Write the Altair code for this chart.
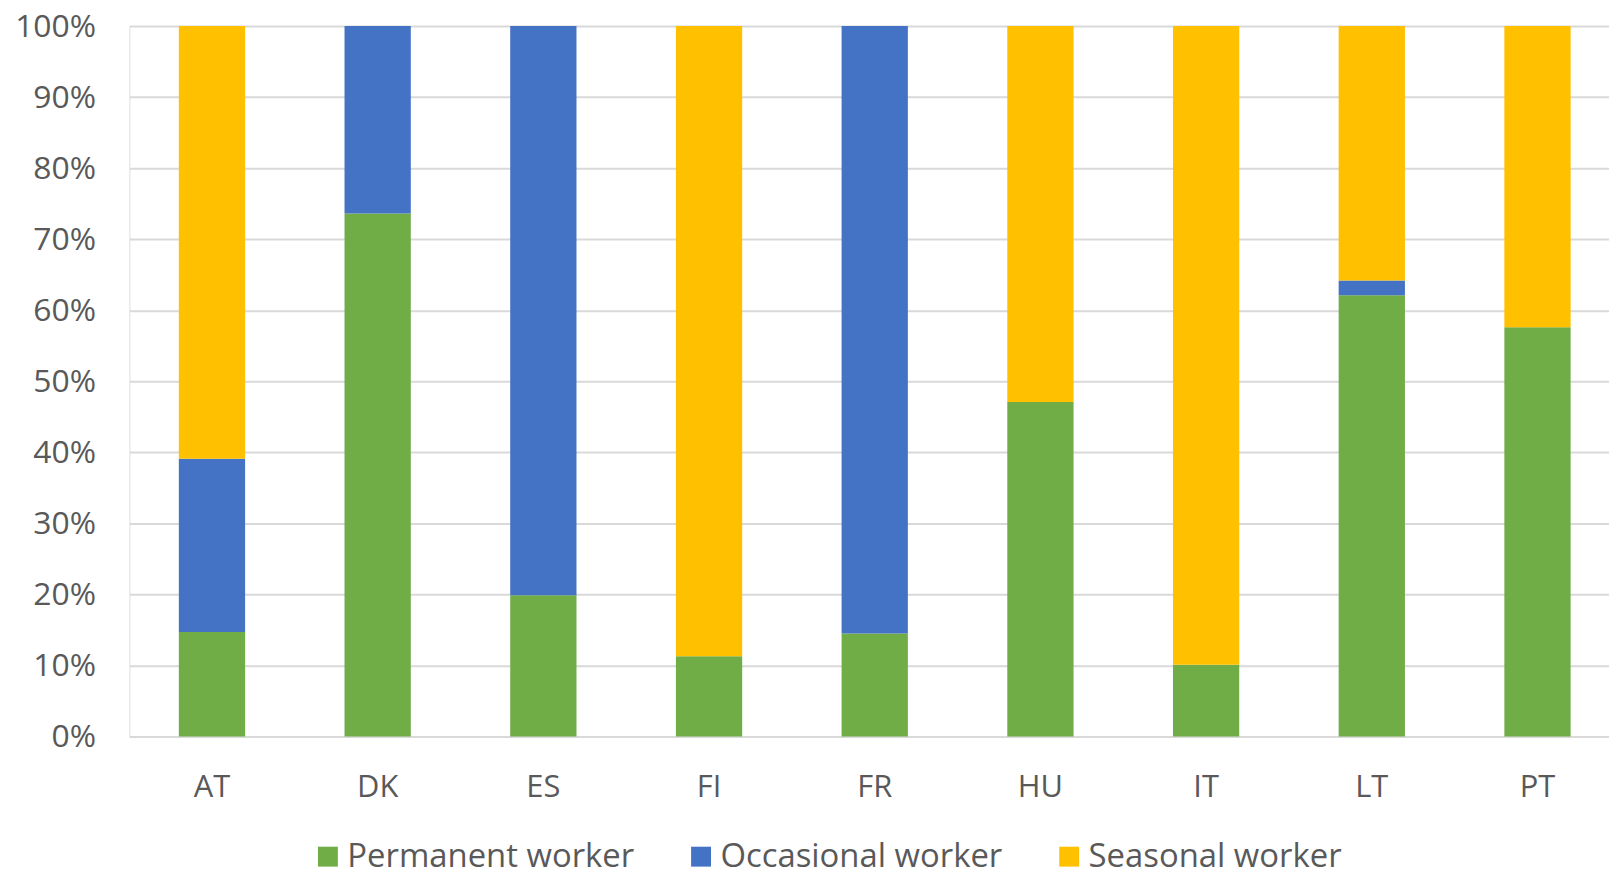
import altair as alt
import pandas as pd

countries = ["AT", "DK", "ES", "FI", "FR", "HU", "IT", "LT", "PT"]
permanent = [14.7, 73.6, 19.9, 11.3, 14.5, 47.1, 10.1, 62.1, 57.6]
occasional = [24.4, 26.4, 80.1, 0.0, 85.5, 0.0, 0.0, 2.1, 0.0]
seasonal = [60.9, 0.0, 0.0, 88.7, 0.0, 52.9, 89.9, 35.8, 42.4]

series_names = ["Permanent worker", "Occasional worker", "Seasonal worker"]
series_colors = ["#70AD47", "#4472C4", "#FFC000"]
y_ticks = [0, 0.1, 0.2, 0.3, 0.4, 0.5, 0.6, 0.7, 0.8, 0.9, 1.0]

rows = []
for i, c in enumerate(countries):
    for k, (name, vals) in enumerate(zip(series_names, [permanent, occasional, seasonal])):
        rows.append({"country": c, "series": name, "order": k, "value": vals[i] / 100.0})
df = pd.DataFrame(rows)

FONT = "Open Sans"
TEXT = "#595959"

chart = alt.Chart(df).mark_bar().encode(
    x=alt.X("country:N", sort=countries, title=None,
            scale=alt.Scale(paddingInner=0.6, paddingOuter=0.265, align=0.563),
            axis=alt.Axis(labelAngle=0, domain=False, ticks=False, labelPadding=36,
                          labelFontSize=31, labelFont=FONT, labelColor=TEXT)),
    y=alt.Y("value:Q", stack="zero", title=None,
            scale=alt.Scale(domain=[0, 1], nice=False),
            axis=alt.Axis(values=y_ticks, format=".0%", domain=False, ticks=False,
                          labelPadding=34, labelFontSize=32, labelFont=FONT,
                          labelColor=TEXT, gridColor="#D9D9D9", gridWidth=2)),
    color=alt.Color("series:N", sort=series_names,
                    scale=alt.Scale(domain=series_names, range=series_colors),
                    legend=alt.Legend(title=None, orient="none", direction="horizontal",
                                      legendX=183, legendY=818, columns=3,
                                      symbolType="square", symbolSize=400,
                                      symbolStrokeWidth=0, labelFontSize=33,
                                      labelFont=FONT, labelColor=TEXT, labelOffset=3,
                                      columnPadding=50, padding=0, labelLimit=400)),
    order=alt.Order("order:Q", sort="ascending"),
).properties(
    width=1487,
    height=714,
    autosize=alt.AutoSizeParams(type="none"),
    padding={"left": 122, "top": 16, "right": 0, "bottom": 133},
).configure_view(stroke=None).configure(background="white")

chart.save("out.html", embed_options={"renderer": "svg", "actions": False})
